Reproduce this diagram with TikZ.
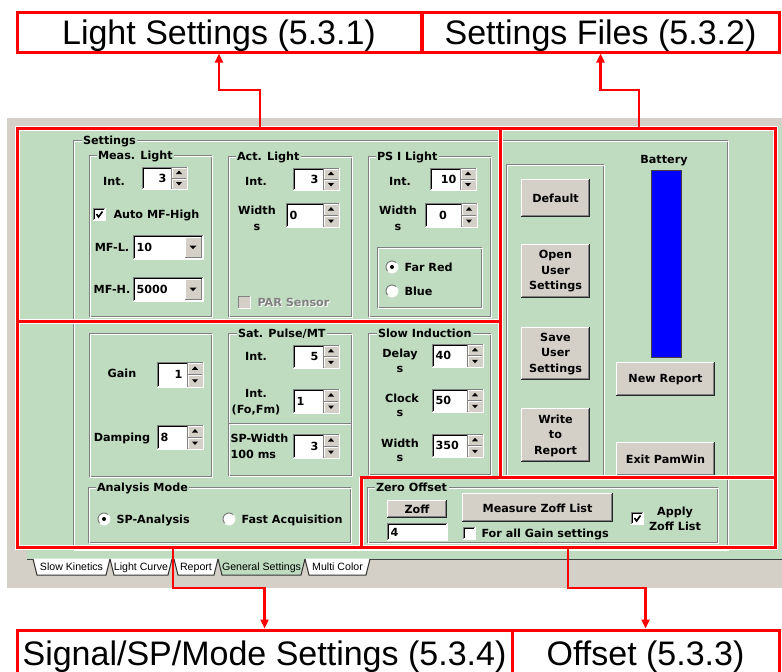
\documentclass[tikz,border=0pt]{standalone}
\usepackage{fontspec}
\setmainfont{Liberation Sans}
\newfontfamily\dvs{DejaVu Sans}
\usetikzlibrary{arrows.meta}
\definecolor{wingreen}{RGB}{192,220,192}
\definecolor{wingray}{RGB}{212,208,200}
\definecolor{edgegray}{RGB}{128,128,128}
\definecolor{frred}{RGB}{255,0,0}
\newcommand\uifont{\dvs\bfseries\fontsize{11.2}{15.5}\selectfont}
\tikzset{
  ui/.style={font=\uifont, inner sep=0pt},
  lbl/.style={ui, text height=8.2pt, text depth=0pt},
  frameline/.style={draw=frred, line width=3pt},
  haloline/.style={draw=white, line width=5pt},
  conn/.style={draw=frred, line width=2.5pt, -{Triangle[length=9pt,width=8pt]}},
  bigbox/.style={draw=frred, line width=3pt, fill=white, font=\fontsize{34}{40}\selectfont,
    inner sep=0pt, text height=24.8pt, text depth=0pt},
  tabtxt/.style={font=\fontsize{10.6}{12}\selectfont, inner sep=0pt, text height=7.6pt, text depth=0pt}
}
% group box: x1 y1 x2 y2 labelx label
\newcommand\grp[6]{%
  \draw[edgegray] (#1,#2) rectangle (#3,#4);
  \draw[white] (#1+1,#2+1) rectangle (#3+1,#4+1);
  \ifx&#6&\else\node[lbl, fill=wingreen, inner xsep=1.5pt, anchor=west] at (#5,#2) {#6};\fi
}
% spin box: x1 y1 x2 y2 value anchor xpos
\newcommand\spn[7]{%
  \pgfmathsetmacro\zzR{#3+16}%
  \pgfmathsetmacro\zzM{(#2+#4)/2}%
  \pgfmathsetmacro\zzC{#3+8}%
  \pgfmathsetmacro\zzU{(#2+\zzM)/2}%
  \pgfmathsetmacro\zzD{(\zzM+#4)/2}%
  \fill[white] (#1,#2) rectangle (#3,#4);
  \fill[wingray] (#3,#2) rectangle (\zzR,#4);
  \draw[white] (#3+1,#4-1) -- (#3+1,#2+1) -- (\zzR-1,#2+1);
  \draw[edgegray] (#3+1,\zzM) -- (\zzR-1,\zzM);
  \draw[white] (#3+1,\zzM+1) -- (\zzR-1,\zzM+1);
  \draw[edgegray] (#3,#2) -- (#3,#4);
  \fill[black] (\zzC-3,\zzU+1.5) -- (\zzC+3,\zzU+1.5) -- (\zzC,\zzU-2) -- cycle;
  \fill[black] (\zzC-3,\zzD-1.5) -- (\zzC+3,\zzD-1.5) -- (\zzC,\zzD+2) -- cycle;
  \draw[edgegray] (#1,#4) -- (#1,#2) -- (\zzR,#2);
  \draw[black] (#1+1,#4-1) -- (#1+1,#2+1) -- (#3,#2+1);
  \draw[white] (#1,#4) -- (\zzR,#4) -- (\zzR,#2);
  \node[lbl,anchor=#6] at (#7,\zzM) {#5};
}
% combo box: x1 y1 x2 y2 value
\newcommand\cmb[5]{%
  \pgfmathsetmacro\zzM{(#2+#4)/2}%
  \pgfmathsetmacro\zzC{#3-10}%
  \fill[white] (#1,#2) rectangle (#3,#4);
  \fill[wingray] (#3-18,#2+2) rectangle (#3-2,#4-2);
  \draw[white] (#3-18,#4-2) -- (#3-18,#2+2) -- (#3-2,#2+2);
  \draw[edgegray] (#3-18,#4-2) -- (#3-2,#4-2) -- (#3-2,#2+2);
  \fill[black] (\zzC-3.5,\zzM-1.5) -- (\zzC+3.5,\zzM-1.5) -- (\zzC,\zzM+2) -- cycle;
  \draw[edgegray] (#1,#4) -- (#1,#2) -- (#3,#2);
  \draw[black] (#1+1,#4-1) -- (#1+1,#2+1) -- (#3-1,#2+1);
  \draw[white] (#1,#4) -- (#3,#4) -- (#3,#2);
  \node[lbl,anchor=west] at (#1+3,\zzM) {#5};
}
% push button: x1 y1 x2 y2 text
\newcommand\btn[5]{%
  \fill[wingray] (#1,#2) rectangle (#3,#4);
  \draw[white] (#1+0.5,#4-1) -- (#1+0.5,#2+0.5) -- (#3-1,#2+0.5);
  \draw[edgegray] (#1+1,#4-1.5) -- (#3-1.5,#4-1.5) -- (#3-1.5,#2+1);
  \draw[black!85] (#1,#4-0.5) -- (#3-0.5,#4-0.5) -- (#3-0.5,#2);
  \node[ui, align=center] at ({(#1+#3)/2},{(#2+#4)/2+0.5}) {#5};
}
% check box: x y state(0,1)
\newcommand\chk[3]{%
  \fill[white] (#1,#2) rectangle (#1+12,#2+12);
  \draw[edgegray] (#1,#2+12) -- (#1,#2) -- (#1+12,#2);
  \draw[black] (#1+1,#2+11) -- (#1+1,#2+1) -- (#1+11,#2+1);
  \draw[white] (#1,#2+12) -- (#1+12,#2+12) -- (#1+12,#2);
  \ifnum#3=1 \draw[line width=1.6pt] (#1+3.5,#2+6) -- (#1+5.5,#2+9) -- (#1+9.5,#2+3.5);\fi
}
% radio: cx cy selected
\newcommand\rad[3]{%
  \fill[white] (#1,#2) circle (6pt);
  \draw[edgegray] (#1,#2) ++(45:6pt) arc[start angle=45, end angle=225, radius=6pt];
  \draw[white!85!wingreen] (#1,#2) ++(225:6pt) arc[start angle=225, end angle=405, radius=6pt];
  \ifnum#3=1 \fill[black] (#1,#2) circle (2pt);\fi
}
% tab: xa xb label fill
\newcommand\wtab[4]{%
  \fill[#4] (#1,558.5) -- (#1+4,575) -- (#2-4,575) -- (#2,558.5) -- cycle;
  \draw[black!80] (#1,559) -- (#1+4,575) -- (#2-4,575) -- (#2,559);
  \node[tabtxt] at ({(#1+#2)/2},567) {#3};
}
\begin{document}
\begin{tikzpicture}[x=1pt,y=-1pt,line width=1pt]
\useasboundingbox (0,0) rectangle (782,672);
\fill[white] (0,0) rectangle (782,672);
% window background
\fill[wingray] (7,118) rectangle (782,588);
\fill[wingreen] (17,126) rectangle (782,548);
\fill[wingreen] (27,548) rectangle (782,559);
\draw[black!75] (27,559) -- (782,559);
% tabs
\wtab{33}{110}{Slow Kinetics}{white}
\wtab{110}{172}{Light Curve}{white}
\wtab{174}{218}{Report}{white}
\wtab{305}{370}{Multi Color}{white}
\wtab{218}{305}{General Settings}{wingreen}

% group boxes
\grp{73}{140}{727}{549}{81}{Settings}
\grp{89}{155}{211}{316}{96}{Meas. Light}
\grp{228}{156}{351}{316}{235}{Act. Light}
\grp{368}{156}{490}{316}{375}{PS I Light}
\grp{377}{247}{481}{307}{0}{}
\grp{89}{333}{211}{476}{0}{}
\grp{228}{333}{351}{475}{236}{Sat. Pulse/MT}
\draw[edgegray] (228,423) -- (351,423);
\draw[white] (229,424) -- (351,424);
\grp{368}{333}{490}{474}{376}{Slow Induction}
\grp{88}{487}{350}{542}{95}{Analysis Mode}
\grp{367}{487}{717}{542}{374}{Zero Offset}
\grp{506}{164}{603}{476}{0}{}

% Meas. Light
\node[lbl] (mlint) at (114,181) {Int.};
\spn{142}{167}{171}{189}{3}{east}{167}
\chk{93}{208}{1}
\node[lbl,anchor=west] (automf) at (113,214) {Auto MF-High};
\node[lbl] (mfl) at (112,247) {MF-L.};
\cmb{133}{235}{203}{259}{10}
\node[lbl] (mfh) at (112,289) {MF-H.};
\cmb{133}{277}{203}{301}{5000}

% Act. Light
\node[lbl] (alint) at (256,181) {Int.};
\spn{293}{168}{323}{190}{3}{east}{319}
\node[lbl] (alw) at (257,210) {Width};
\node[lbl] (als) at (257,226) {s};
\spn{286}{203}{323}{227}{0}{west}{289}
\fill[wingray] (238,296) rectangle (250,308);
\draw[edgegray] (238,308) -- (238,296) -- (250,296);
\draw[white] (238,308) -- (250,308) -- (250,296);
\node[lbl,anchor=west,text=white] (parsh) at (258,303) {PAR Sensor};
\node[lbl,anchor=west,text=edgegray] (par) at (257,302) {PAR Sensor};

% PS I Light
\node[lbl] (psint) at (400,181) {Int.};
\spn{430}{168}{460}{190}{10}{east}{457}
\node[lbl] (psw) at (398,210) {Width};
\node[lbl] (pss) at (398,226) {s};
\spn{425}{203}{461}{227}{0}{center}{443}
\rad{392}{267}{1}
\node[lbl,anchor=west] (farred) at (404,267) {Far Red};
\rad{392}{291}{0}
\node[lbl,anchor=west] (blue) at (404,291) {Blue};

% Gain / Damping
\node[lbl] (gain) at (122,373) {Gain};
\spn{157}{362}{187}{387}{1}{east}{183}
\node[lbl] (damp) at (122,437) {Damping};
\spn{157}{425}{187}{449}{8}{west}{160}

% Sat. Pulse/MT
\node[lbl] (spint) at (256,356) {Int.};
\spn{293}{345}{323}{368}{5}{east}{319}
\node[lbl] (spint2) at (256,393) {Int.};
\node[lbl] (spfo) at (256,409) {(Fo,Fm)};
\spn{293}{389}{323}{413}{1}{west}{296}
\node[lbl,anchor=west] (spw) at (230,438) {SP-Width};
\node[lbl,anchor=west] (spms) at (230,454) {100 ms};
\spn{293}{434}{323}{458}{3}{east}{319}

% Slow Induction
\node[lbl] (sidelay) at (400,353) {Delay};
\node[lbl] (sids) at (400,368) {s};
\spn{432}{344}{467}{367}{40}{west}{435}
\node[lbl] (siclock) at (402,398) {Clock};
\node[lbl] (sics) at (400,412) {s};
\spn{432}{389}{467}{412}{50}{west}{435}
\node[lbl] (siwidth) at (400,443) {Width};
\node[lbl] (siws) at (400,457) {s};
\spn{432}{434}{467}{457}{350}{west}{435}

% Analysis Mode
\rad{104}{519}{1}
\node[lbl,anchor=west] (spana) at (116,519) {SP-Analysis};
\rad{229}{519}{0}
\node[lbl,anchor=west] (fastacq) at (241,519) {Fast Acquisition};

% Zero Offset
\btn{387}{500}{447}{518}{Zoff}
\fill[white] (387,523) rectangle (447,540);
\draw[edgegray] (387,540) -- (387,523) -- (447,523);
\draw[black] (388,539) -- (388,524) -- (446,524);
\draw[white] (387,540) -- (447,540) -- (447,523);
\node[lbl,anchor=west] (zoffval) at (390,532) {4};
\btn{462}{493}{613}{522}{Measure Zoff List}
\chk{463}{527}{0}
\node[lbl,anchor=west] (forall) at (481,533) {For all Gain settings};
\chk{631}{512}{1}
\node[lbl] (apply) at (675,511) {Apply};
\node[lbl] (zofflist) at (675,526) {Zoff List};

% Right side
\btn{521}{179}{590}{217}{Default}
\btn{521}{244}{590}{298}{Open\\User\\Settings}
\btn{521}{327}{590}{380}{Save\\User\\Settings}
\btn{521}{408}{590}{462}{Write\\to\\Report}
\node[lbl] (battery) at (664,159) {Battery};
\fill[blue] (651,170) rectangle (681,357);
\draw[black!75] (651,170) rectangle (681,357);
\btn{616}{362}{715}{396}{New Report}
\btn{616}{442}{715}{476}{Exit PamWin}

% red frames
\draw[haloline] (17,128) rectangle (775,547);
\draw[haloline] (17,321) -- (500,321);
\draw[haloline] (500,128) -- (500,477) -- (775,477);
\draw[haloline] (361,477) -- (361,547);
\draw[frameline] (17,128) rectangle (500,321);
\draw[frameline] (500,128) rectangle (775,477);
\draw[frameline] (17,321) -- (500,321) -- (500,477) -- (361,477) -- (361,547) -- (17,547) -- cycle;
\draw[frameline] (361,477) rectangle (775,547);

% label boxes
\node[bigbox, minimum width=404pt, minimum height=40pt] (ls) at (219,32) {Light Settings (5.3.1)};
\node[bigbox, minimum width=357pt, minimum height=40pt] (sf) at (600.5,32) {Settings Files (5.3.2)};
\node[bigbox, minimum width=495pt, minimum height=46pt] (sig) at (264.5,653) {Signal/SP/Mode Settings (5.3.4)};
\node[bigbox, minimum width=267pt, minimum height=46pt] (off) at (645.5,653) {Offset (5.3.3)};

% connectors
\coordinate (lsA) at (260,128);
\coordinate (sfA) at (639,128);
\coordinate (sigA) at (173,547);
\coordinate (offA) at (568,547);
\draw[conn] (lsA) -- ++(0,-38) -| (ls.south);
\draw[conn] (sfA) -- ++(0,-38) -| (sf.south);
\draw[conn] (sigA) -- ++(0,41) -| (sig.north);
\draw[conn] (offA) -- ++(0,41) -| (off.north);
\end{tikzpicture}
\end{document}
